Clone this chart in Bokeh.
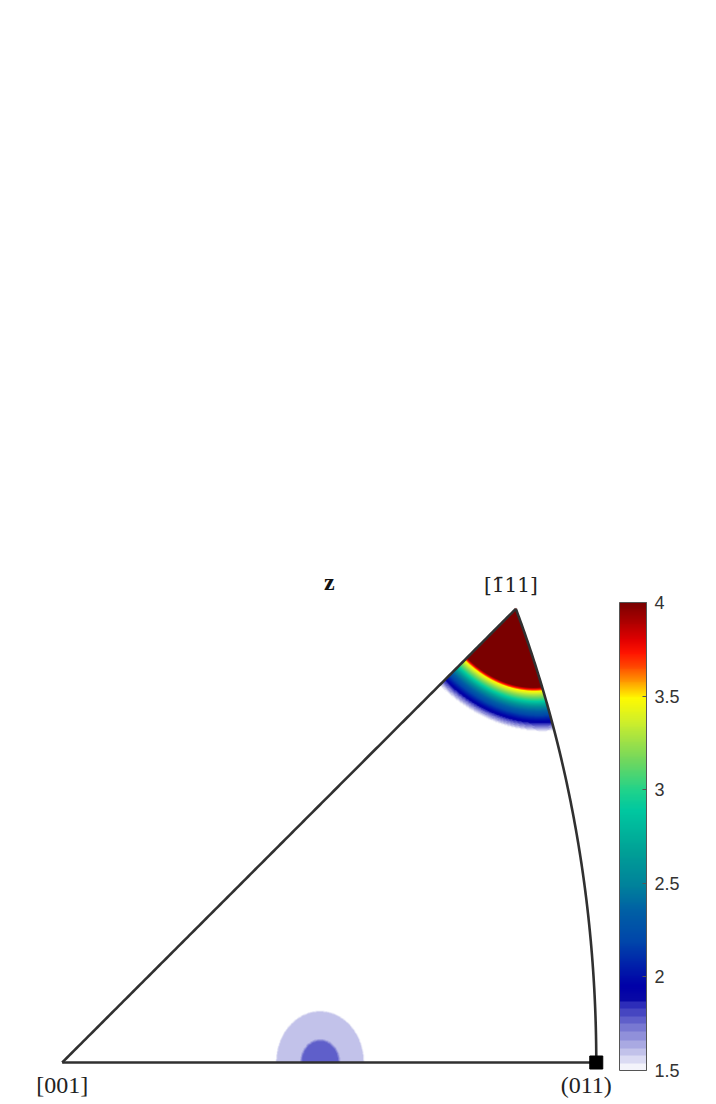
import numpy as np
from bokeh.plotting import figure
from bokeh.models import (Range1d, LinearColorMapper, ColorBar, FixedTicker,
                          ColumnDataSource)
from bokeh.core.properties import value
from bokeh.embed import file_html
from bokeh.resources import INLINE

# ---------------- data ----------------
corner_labels = ["[001]", "(011)", "[1\u030411]"]
corner_dirs = [(0, 0, 1), (0, 1, 1), (-1, 1, 1)]
title_text = "z"

# density peak at [-111]: angular distance (deg) -> density
peak1_dir = (-1, 1, 1)
peak1_angle = [0.0, 6.3, 6.6, 7.3, 7.9, 8.5, 9.0, 9.4, 9.8, 10.3, 30.0]
peak1_value = [6.0, 4.0, 3.5, 3.0, 2.5, 2.2, 1.95, 1.72, 1.5, 1.3, 1.2]

# small density peak on the [001]-(011) edge
peak2_dir = (0, 0.39, 1)
peak2_angle = [0.0, 1.5, 1.7, 3.6, 3.8, 6.0]
peak2_value = [1.77, 1.77, 1.6, 1.6, 1.4, 1.2]
peak2_stretch = 1.13

tick_values = [1.5, 2, 2.5, 3, 3.5, 4]
c_low, c_high = 1.5, 4.0

# ---------------- colormap ----------------
anch_v = [1.87, 1.95, 2.09, 2.19, 2.35, 2.49, 2.67, 2.89, 2.99, 3.15, 3.26,
          3.37, 3.49, 3.58, 3.66, 3.73, 3.80, 3.90, 4.0]
anch_c = [(10, 10, 165), (0, 0, 168), (0, 40, 170), (0, 70, 170), (0, 95, 165),
          (0, 130, 155), (0, 160, 150), (0, 200, 160), (30, 210, 140),
          (110, 215, 95), (160, 225, 70), (210, 240, 40), (255, 250, 0),
          (255, 150, 0), (255, 70, 0), (255, 20, 0), (225, 0, 0), (170, 0, 0),
          (120, 0, 0)]
N = 250
vals = c_low + (np.arange(N) + 0.5) * (c_high - c_low) / N
palette = []
nsteps = 9
w0 = np.array([244, 244, 251.0])
w1 = np.array([45, 45, 185.0])
ac = np.array(anch_c, dtype=float)
for vv in vals:
    if vv < 1.87:
        k = int((vv - 1.5) / ((1.87 - 1.5) / nsteps))
        k = min(k, nsteps - 1)
        col = w0 + (w1 - w0) * k / (nsteps - 1)
    else:
        col = [np.interp(vv, anch_v, ac[:, i]) for i in range(3)]
    palette.append("#%02x%02x%02x" % tuple(int(round(c)) for c in col))

mapper = LinearColorMapper(palette=palette, low=c_low, high=c_high,
                           low_color="white", high_color="#7a0000",
                           nan_color=(255, 255, 255, 0))

# ---------------- geometry (equal-area projection) ----------------
def unit(d):
    d = np.asarray(d, dtype=float)
    return d / np.linalg.norm(d)

def project(d):
    d = unit(d)
    th = np.arccos(np.clip(d[2], -1, 1))
    r = 2 * np.sin(th / 2)
    az = np.arctan2(-d[0], d[1])
    return r * np.cos(az), r * np.sin(az)

def slerp(a, b, n=200):
    a, b = unit(a), unit(b)
    om = np.arccos(np.clip(a @ b, -1, 1))
    t = np.linspace(0, 1, n)
    return [(np.sin((1 - ti) * om) * a + np.sin(ti * om) * b) / np.sin(om) for ti in t]

S = 697.8
left_px, base_px, W, H = 61.7, 1062.0, 716, 1104

p = figure(width=W, height=H, output_backend="svg", toolbar_location=None,
           x_range=Range1d(-left_px / S, (W - left_px) / S),
           y_range=Range1d(-(H - base_px) / S, base_px / S),
           min_border=0, outline_line_color=None,
           x_axis_location=None, y_axis_location=None)
p.grid.visible = False
p.background_fill_color = "white"

# density field
h0, h1, v0, v1 = 0.0, 0.78, 0.0, 0.66
nx, ny = int((h1 - h0) * S), int((v1 - v0) * S)
hh = h0 + (np.arange(nx) + 0.5) * (h1 - h0) / nx
vv_ = v0 + (np.arange(ny) + 0.5) * (v1 - v0) / ny
HH, VV = np.meshgrid(hh, vv_)
R = np.sqrt(HH ** 2 + VV ** 2)
TH = 2 * np.arcsin(np.clip(R / 2, 0, 1))
AZ = np.arctan2(VV, HH)
DX = -np.sin(TH) * np.sin(AZ)
DY = np.sin(TH) * np.cos(AZ)
DZ = np.cos(TH)

c1 = unit(peak1_dir)
w1a = np.degrees(np.arccos(np.clip(DX * c1[0] + DY * c1[1] + DZ * c1[2], -1, 1)))
f1 = np.interp(w1a, peak1_angle, peak1_value)

c2 = unit(peak2_dir)
thc = np.arccos(c2[2])
a1 = DY * np.cos(thc) - DZ * np.sin(thc)
a2 = -DX
dd2 = np.degrees(np.sqrt(a1 ** 2 + (a2 / peak2_stretch) ** 2))
f2 = np.interp(dd2, peak2_angle, peak2_value)

F = np.maximum(f1, f2)
inside = (VV >= 0) & (VV <= HH) & (DY <= DZ + 1e-9)
F = np.where(inside, F, np.nan)

p.image(image=[F], x=h0, y=v0, dw=h1 - h0, dh=v1 - v0, color_mapper=mapper)

# sector outline
edges = [(corner_dirs[0], corner_dirs[1]), (corner_dirs[1], corner_dirs[2]),
         (corner_dirs[2], corner_dirs[0])]
for a, b in edges:
    pts = [project(q) for q in slerp(a, b)]
    p.line([q[0] for q in pts], [q[1] for q in pts], line_color="#303030",
           line_width=2.6)

cx = [project(d)[0] for d in corner_dirs]
cy = [project(d)[1] for d in corner_dirs]

p.scatter([cx[1]], [cy[1]], marker="square", size=13, color="black")

# corner labels
lab_src = ColumnDataSource(dict(x=cx[:2], y=cy[:2], text=corner_labels[:2],
                                xo=[0, -10], yo=[22, 22]))
p.text(x="x", y="y", text="text", x_offset="xo", y_offset="yo", source=lab_src,
       text_font=value("Liberation Serif"), text_font_size="24px",
       text_align="center", text_baseline="alphabetic", text_color="#222222")

p.text(x=[cx[2]], y=[cy[2]], text=[corner_labels[2]], x_offset=-5, y_offset=-24,
       text_font=value("DejaVu Serif"), text_font_size="20px",
       text_align="center", text_baseline="alphabetic", text_color="#222222")

p.text(x=[cx[1] / 2], y=[cy[2]], text=[title_text], y_offset=-27,
       text_font=value("Liberation Serif"), text_font_size="24px",
       text_font_style="bold", text_align="center", text_baseline="alphabetic",
       text_color="#111111")

cb = ColorBar(color_mapper=mapper, ticker=FixedTicker(ticks=tick_values),
              major_label_overrides={t: f"{t:g}" for t in tick_values},
              width=27, height=468, location=(619, 34), padding=0, margin=0,
              label_standoff=8, major_label_text_font="Liberation Sans",
              major_label_text_font_size="18px", major_label_text_color="#333333",
              major_tick_line_color="#555555", major_tick_in=4, major_tick_out=0,
              bar_line_color="#555555", bar_line_width=1,
              border_line_color=None, background_fill_color=None)
p.add_layout(cb, "center")

open("out.html", "w").write(file_html(p, INLINE))
